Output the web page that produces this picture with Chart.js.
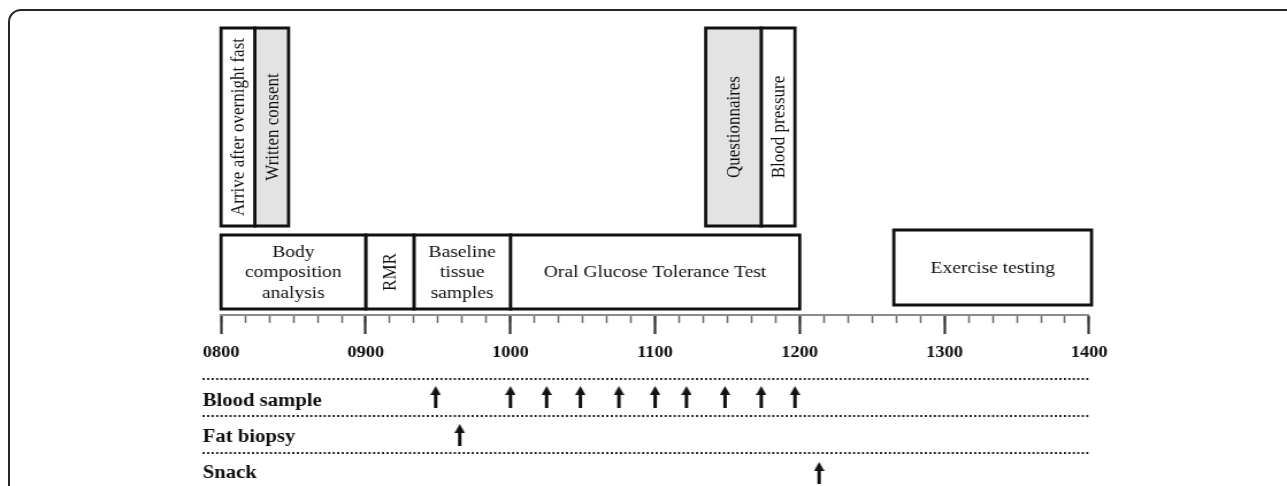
<!DOCTYPE html>
<html>
<head>
<meta charset="utf-8">
<title>Study visit timeline</title>
<script src="https://cdn.jsdelivr.net/npm/chart.js@4.4.1/dist/chart.umd.min.js"></script>
<style>
  html, body { margin: 0; padding: 0; background: #fff; overflow: hidden; }
  #wrap { position: relative; width: 1287px; height: 486px; overflow: hidden; }
  #frame { position: absolute; left: 8px; top: 9px; width: 1340px; height: 560px;
           border: 2.5px solid #262626; border-radius: 13px; box-sizing: border-box; }
  #timeline { position: absolute; left: 0; top: 0; }
</style>
</head>
<body>
<div id="wrap">
  <div id="frame"></div>
  <canvas id="timeline"></canvas>
</div>
<script>
// times are minutes after midnight (480 = 0800)
const hourTicks = [480, 540, 600, 660, 720, 780, 840];
const hourLabels = ['0800', '0900', '1000', '1100', '1200', '1300', '1400'];

// tall boxes above the main row (text runs vertically)
const upperTasks = ['Arrive after overnight fast', 'Written consent', 'Questionnaires', 'Blood pressure'];
const upperStart = [480, 494, 681, 704];
const upperEnd = [494, 508, 704, 718];
const upperShaded = [false, true, true, false];

// main row of boxes
const mainTasks = [['Body', 'composition', 'analysis'], ['RMR'], ['Baseline', 'tissue', 'samples'],
                   ['Oral Glucose Tolerance Test'], ['Exercise testing']];
const mainStart = [480, 540, 560, 600, 759];
const mainEnd = [540, 560, 600, 720, 841];

// sampling rows under the axis
const sampleRows = ['Blood sample', 'Fat biopsy', 'Snack'];
const bloodSampleTimes = [569, 600, 615, 629, 645, 660, 673, 689, 704, 718];
const fatBiopsyTimes = [579];
const snackTimes = [728];

// the source figure is squeezed into a wider frame, so draw narrower and stretch
const STRETCH = 1.15;
const W = 1287, H = 486;
const canvas = document.getElementById('timeline');
canvas.width = Math.round(W / STRETCH);
canvas.height = H;
canvas.style.width = W + 'px';
canvas.style.height = H + 'px';

// vertical layout, in y-scale units (the y scale runs 0..486 top to bottom)
const band = {
  upper: [28, 226],
  main: [235, 309],
  exercise: [230, 305],
  axis: 315,
  separators: [379, 416, 453],
  rowLabel: [401, 437, 473],
  arrow: [397, 435, 473]
};
const axisLeftPx = 221, axisRightPx = 1089;

function makeArrow() {
  const c = document.createElement('canvas');
  c.width = 9; c.height = 22;
  const g = c.getContext('2d');
  g.fillStyle = '#111';
  g.beginPath();
  g.moveTo(4.5, 0); g.lineTo(9, 9); g.lineTo(0, 9); g.closePath();
  g.fill();
  g.fillRect(3, 8, 3, 14);
  return c;
}
const arrowImg = makeArrow();

function boxDataset(label, s, e, yb, fillColor, text, vertical) {
  return {
    type: 'line',
    label: label,
    data: [{x: s, y: yb[0]}, {x: e, y: yb[0]}, {x: e, y: yb[1]}, {x: s, y: yb[1]}, {x: s, y: yb[0]}],
    borderColor: '#111',
    borderWidth: 2.8,
    backgroundColor: fillColor,
    fill: 'shape',
    pointRadius: 0,
    tension: 0,
    clip: false,
    borderJoinStyle: 'miter',
    borderCapStyle: 'square',
    boxText: text,
    vertical: vertical
  };
}

function arrowDataset(label, times, row) {
  return {
    type: 'scatter',
    label: label,
    data: times.map(t => ({x: t, y: band.arrow[row]})),
    pointStyle: arrowImg,
    pointRadius: 10,
    showLine: false,
    clip: false
  };
}

const datasets = [];
upperTasks.forEach((t, i) => {
  datasets.push(boxDataset(t, upperStart[i], upperEnd[i], band.upper,
    upperShaded[i] ? '#e3e3e3' : '#ffffff', [t], true));
});
mainTasks.forEach((t, i) => {
  const yb = t[0] === 'Exercise testing' ? band.exercise : band.main;
  datasets.push(boxDataset(t.join(' '), mainStart[i], mainEnd[i], yb, '#ffffff', t, t[0] === 'RMR'));
});
datasets.push(arrowDataset(sampleRows[0], bloodSampleTimes, 0));
datasets.push(arrowDataset(sampleRows[1], fatBiopsyTimes, 1));
datasets.push(arrowDataset(sampleRows[2], snackTimes, 2));

// box captions, row labels and dotted separators
const textPlugin = {
  id: 'timelineText',
  afterDatasetsDraw(chart) {
    const {ctx, chartArea} = chart;
    const x = chart.scales.x, y = chart.scales.y;
    const rowLeft = chartArea.left - 16;
    ctx.save();
    ctx.strokeStyle = '#1a1a1a';
    ctx.lineWidth = 2;
    ctx.setLineDash([1.8, 2.1]);
    band.separators.forEach(v => {
      const py = y.getPixelForValue(v);
      ctx.beginPath();
      ctx.moveTo(rowLeft, py);
      ctx.lineTo(chartArea.right, py);
      ctx.stroke();
    });
    ctx.setLineDash([]);

    ctx.fillStyle = '#111';
    ctx.font = 'bold 18px "Liberation Serif"';
    ctx.textAlign = 'left';
    ctx.textBaseline = 'middle';
    sampleRows.forEach((r, i) => ctx.fillText(r, rowLeft, y.getPixelForValue(band.rowLabel[i])));

    ctx.font = '17px "Liberation Serif"';
    ctx.textAlign = 'center';
    chart.data.datasets.forEach(ds => {
      if (!ds.boxText) return;
      const p = ds.data;
      const cx = (x.getPixelForValue(p[0].x) + x.getPixelForValue(p[1].x)) / 2;
      const cy = (y.getPixelForValue(p[0].y) + y.getPixelForValue(p[2].y)) / 2;
      if (ds.vertical) {
        ctx.save();
        ctx.translate(cx + 1, cy);
        ctx.rotate(-Math.PI / 2);
        ctx.fillText(ds.boxText[0], 0, 0);
        ctx.restore();
      } else {
        const lh = 20.5, n = ds.boxText.length;
        ds.boxText.forEach((line, k) => ctx.fillText(line, cx, cy + (k - (n - 1) / 2) * lh + 1));
      }
    });
    ctx.restore();
  }
};

Chart.defaults.font.family = '"Liberation Serif", "Times New Roman", serif';

new Chart(canvas, {
  type: 'line',
  data: { datasets: datasets },
  options: {
    responsive: false,
    animation: false,
    events: [],
    layout: {
      autoPadding: false,
      padding: {
        left: axisLeftPx / STRETCH,
        right: canvas.width - axisRightPx / STRETCH,
        top: 0,
        bottom: 0
      }
    },
    plugins: { legend: { display: false }, tooltip: { enabled: false } },
    scales: {
      y: { type: 'linear', display: false, min: 0, max: H, reverse: true },
      xMinor: {
        type: 'linear',
        min: 480, max: 840,
        position: { y: band.axis },
        grid: { drawOnChartArea: false, drawTicks: true, tickLength: 8, tickWidth: 1.6, tickColor: '#6e6e6e' },
        border: { display: false },
        ticks: { display: false, stepSize: 10 }
      },
      x: {
        type: 'linear',
        min: 480, max: 840,
        position: { y: band.axis },
        afterBuildTicks: (scale) => { scale.ticks = hourTicks.map(v => ({ value: v })); },
        grid: { drawOnChartArea: false, drawTicks: true, tickLength: 18, tickWidth: 2.2, tickColor: '#333' },
        border: { display: true, color: '#8c8c8c', width: 2 },
        ticks: {
          autoSkip: false,
          maxRotation: 0,
          padding: 10,
          color: '#111',
          font: { size: 16, weight: 'bold' },
          callback: (v) => hourLabels[hourTicks.indexOf(v)]
        }
      }
    }
  },
  plugins: [textPlugin]
});
</script>
</body>
</html>
